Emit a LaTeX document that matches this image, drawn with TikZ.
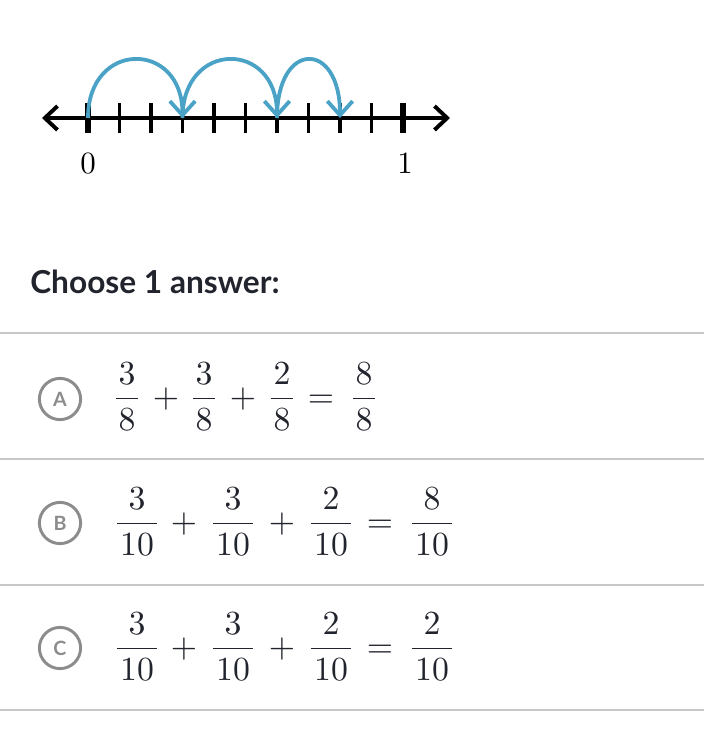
\documentclass[tikz,border=0pt]{standalone}
\usepackage{amsmath}
\usepackage{fontspec}
\setsansfont{Lato}
\usetikzlibrary{arrows.meta}

\definecolor{hopblue}{RGB}{74,163,199}
\definecolor{rulegray}{RGB}{200,200,200}
\definecolor{optgray}{RGB}{140,140,140}
\definecolor{inkdark}{RGB}{33,36,44}

% fraction with a slightly longer bar
\newcommand{\fr}[2]{\dfrac{\mkern1.5mu #1\mkern1.5mu}{\mkern1.5mu #2\mkern1.5mu}}
% 10pt design size, blown up
\newcommand{\enlarge}[2]{\scalebox{#1}{#2}}

\begin{document}
\begin{tikzpicture}[x=0.025cm, y=-0.025cm,
    tick/.style={line width=2.8pt, black},
    endtick/.style={line width=4.4pt, black},
    hop/.style={line width=2.7pt, hopblue, -{Straight Barb[length=10pt, width=18pt, line width=2.7pt]}},
    optcircle/.style={circle, draw=optgray, line width=2.1pt, minimum size=1.03cm,
        inner sep=0pt, text=optgray, font=\sffamily\bfseries\fontsize{14}{14}\selectfont},
    eqpart/.style={anchor=base, inner sep=0pt, text=inkdark, font=\fontsize{10}{12}\selectfont},
]
    % Page size
    \useasboundingbox (0,0) rectangle (704,751);

    % Number line from 0 to 1 in tenths
    \foreach \i in {0,...,10} {
        \coordinate (t\i) at ({88+31.5*\i},118);
    }
    \coordinate (lineL) at (42,118);
    \coordinate (lineR) at (450,118);
    \draw[line width=2.8pt, {Straight Barb[length=9pt, width=17pt]}-{Straight Barb[length=9pt, width=17pt]}]
        (lineL) -- (lineR);
    \foreach \i in {1,...,9} {
        \draw[tick] (t\i) ++(0,-15) -- ++(0,30);
    }
    \draw[endtick] (t0) ++(0,-15) -- ++(0,30);
    \draw[endtick] (t10) ++(0,-15) -- ++(0,30);

    \node[eqpart, text=black] (lab0) at (88,173) {\enlarge{2.2}{0}};
    \node[eqpart, text=black] (lab1) at (405,173) {\enlarge{2.2}{1}};

    % Hops: 3 tenths, 3 tenths, 2 tenths
    \draw[hop] (t0) .. controls +(0,-78) and +(0,-78) .. (t3);
    \draw[hop] (t3) .. controls +(0,-78) and +(0,-78) .. (t6);
    \draw[hop] (t6) .. controls +(0,-78) and +(0,-78) .. (t8);

    % Question
    \node[anchor=base west, inner sep=0pt, text=inkdark,
        font=\sffamily\bfseries\fontsize{22.5}{26}\selectfont] (choose) at (30,293) {Choose 1 answer:};

    % Separators
    \foreach \y in {333, 459, 585, 710} {
        \draw[rulegray, line width=1.4pt] (0,\y) -- (704,\y);
    }

    % Answer A
    \node[optcircle] (optA) at (60,399) {A};
    \foreach \x/\txt [count=\k] in {127/\fr{3}{8}, 166/+, 204/\fr{3}{8}, 243/+, 282/\fr{2}{8}, 321/=, 364/\fr{8}{8}} {
        \node[eqpart] (eqA\k) at (\x,407) {\enlarge{2.4}{$\txt$}};
    }

    % Answer B
    \node[optcircle] (optB) at (60,523) {B};
    \foreach \x/\txt [count=\k] in {137/\fr{3}{10}, 184/+, 233/\fr{3}{10}, 282/+, 331/\fr{2}{10}, 380/=, 432/\fr{8}{10}} {
        \node[eqpart] (eqB\k) at (\x,532) {\enlarge{2.4}{$\txt$}};
    }

    % Answer C
    \node[optcircle] (optC) at (60,648) {C};
    \foreach \x/\txt [count=\k] in {137/\fr{3}{10}, 184/+, 233/\fr{3}{10}, 282/+, 331/\fr{2}{10}, 380/=, 432/\fr{2}{10}} {
        \node[eqpart] (eqC\k) at (\x,657) {\enlarge{2.4}{$\txt$}};
    }

\end{tikzpicture}
\end{document}
